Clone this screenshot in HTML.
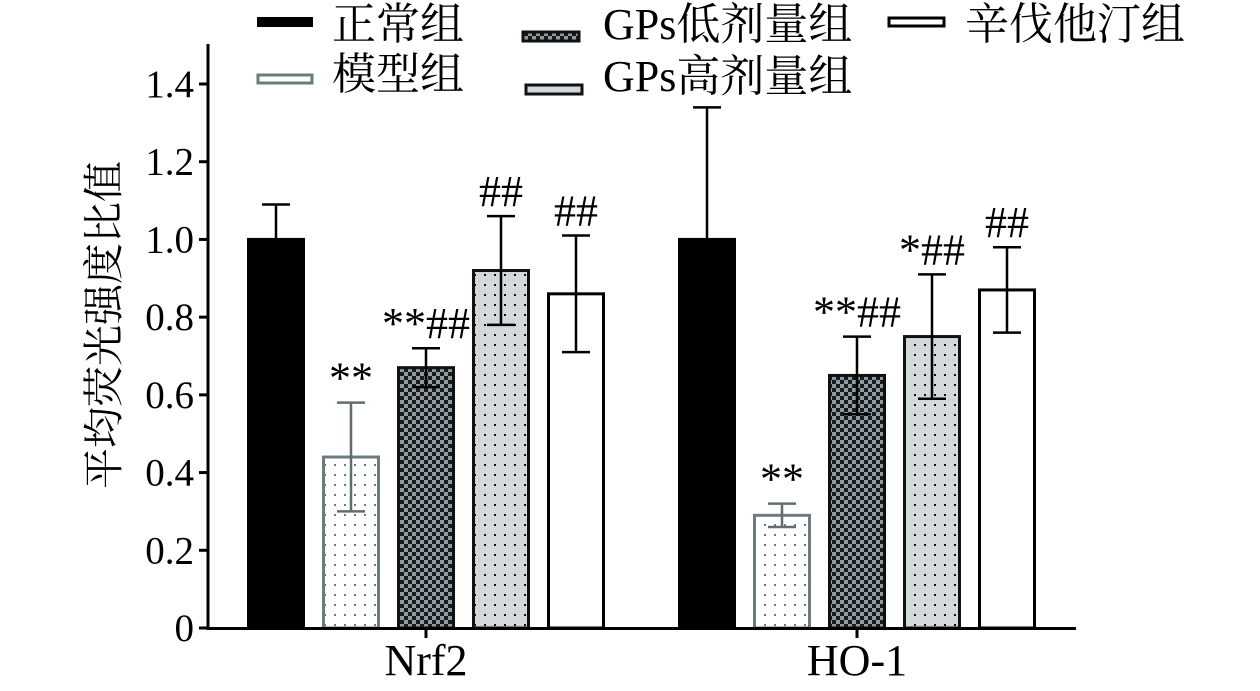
<!DOCTYPE html>
<html><head><meta charset="utf-8"><style>
body{margin:0;background:#fff;}
svg text{font-family:"Liberation Serif","Noto Serif CJK SC",serif;fill:#000;}
</style></head><body>
<svg id="chart" width="1260" height="686" viewBox="0 0 1260 686" xmlns="http://www.w3.org/2000/svg">
<defs>
<pattern id="pModel" width="10" height="10" patternUnits="userSpaceOnUse"><rect width="10" height="10" fill="#fff"/><rect x="4" y="4" width="2" height="2" fill="#6d7b80"/></pattern>
<pattern id="pLow" width="8" height="8" patternUnits="userSpaceOnUse"><rect width="8" height="8" fill="#1a1a1a"/><rect width="4" height="4" fill="#8d9ca2"/><rect x="4" y="4" width="4" height="4" fill="#8d9ca2"/></pattern>
<pattern id="pHigh" width="10" height="10" patternUnits="userSpaceOnUse"><rect width="10" height="10" fill="#d3d9da"/><rect x="4" y="4" width="2" height="2" fill="#111"/></pattern>
</defs>
<g id="legend">
<rect x="257" y="17" width="56" height="10" fill="#000"/>
<text x="332" y="39" font-size="44">正常组</text>
<rect x="258" y="75" width="54" height="8" fill="url(#pModel)" stroke="#6d7b80" stroke-width="3"/>
<text x="332" y="89" font-size="44">模型组</text>
<rect x="523" y="32" width="56" height="9" fill="url(#pLow)" stroke="#111" stroke-width="3"/>
<text x="603" y="39" font-size="44">GPs低剂量组</text>
<rect x="526" y="85" width="56" height="9" fill="url(#pHigh)" stroke="#111" stroke-width="3"/>
<text x="603" y="91" font-size="44">GPs高剂量组</text>
<rect x="889" y="18" width="55" height="8" fill="#fff" stroke="#000" stroke-width="3"/>
<text x="965" y="39" font-size="44">辛伐他汀组</text>
</g>
<text transform="translate(118,325) rotate(-90)" text-anchor="middle" font-size="41">平均荧光强度比值</text>
<g id="plot"></g>
</svg>
<script>
const categories=["Nrf2","HO-1"];
const normalVals=[1.0,1.0];
const modelVals=[0.44,0.29];
const lowVals=[0.67,0.65];
const highVals=[0.92,0.75];
const statinVals=[0.86,0.87];
const normalErr=[0.09,0.34];
const modelErr=[0.14,0.03];
const lowErr=[0.05,0.10];
const highErr=[0.14,0.16];
const statinErr=[0.15,0.11];
const modelMarks=["**","**"];
const lowMarks=["**##","**##"];
const highMarks=["##","*##"];
const statinMarks=["##","##"];
const yTicks=[0,0.2,0.4,0.6,0.8,1.0,1.2,1.4];
const yTickLabels=["0","0.2","0.4","0.6","0.8","1.0","1.2","1.4"];

const NS="http://www.w3.org/2000/svg";
const g=document.getElementById('plot');
const y0=628, yTop=84;
function yS(v){return y0-(v/1.4)*(y0-yTop);}
const groupCenters=[426,857];
const barW=58, barStep=75;
function xBar(ci,si){return groupCenters[ci]+(si-2)*barStep-barW/2;}
function mk(tag,attrs){const e=document.createElementNS(NS,tag);for(const k in attrs)e.setAttribute(k,attrs[k]);g.appendChild(e);return e;}
const series=[
 {vals:normalVals,err:normalErr,marks:null,fill:"#000",stroke:"#000",ec:"#000",name:"normal"},
 {vals:modelVals,err:modelErr,marks:modelMarks,fill:"url(#pModel)",stroke:"#6d7b80",ec:"#5f6d72",name:"model"},
 {vals:lowVals,err:lowErr,marks:lowMarks,fill:"url(#pLow)",stroke:"#111",ec:"#000",name:"low-dose"},
 {vals:highVals,err:highErr,marks:highMarks,fill:"url(#pHigh)",stroke:"#111",ec:"#000",name:"high-dose"},
 {vals:statinVals,err:statinErr,marks:statinMarks,fill:"#fff",stroke:"#000",ec:"#000",name:"statin"}
];
series.forEach((s,si)=>{
 categories.forEach((c,ci)=>{
  const x=xBar(ci,si), y=yS(s.vals[ci]);
  const r=mk('rect',{x:x+1.5,y:y,width:barW-3,height:y0-y,fill:s.fill,stroke:s.stroke,'stroke-width':3});
  
  
  const cx=x+barW/2, yh=yS(s.vals[ci]+s.err[ci]), yl=yS(s.vals[ci]-s.err[ci]);
  const e=mk('path',{d:`M${cx},${yh}V${yl}M${cx-14},${yh}H${cx+14}M${cx-14},${yl}H${cx+14}`,stroke:s.ec,'stroke-width':2.5,fill:'none'});
  
  
  if(s.marks){
   const t=mk('text',{x:cx,y:yh-10,'text-anchor':'middle','font-size':44});
   t.textContent=s.marks[ci];
   
   
  }
 });
});
const ya=mk('path',{d:`M208,44V630`,stroke:'#000','stroke-width':3});


const xa=mk('path',{d:`M207,628.5H1076`,stroke:'#000','stroke-width':3});


yTicks.forEach((v,i)=>{
 const yy=yS(v);
 const tk=mk('path',{d:`M199,${yy}H208`,stroke:'#000','stroke-width':3});
 
 
 const t=mk('text',{x:194,y:yy+13,'text-anchor':'end','font-size':39});
 t.textContent=yTickLabels[i];
 
 
});
categories.forEach((c,ci)=>{
 const tk=mk('path',{d:`M${groupCenters[ci]},628V638`,stroke:'#000','stroke-width':3});
 
 
 const t=mk('text',{x:groupCenters[ci],y:675,'text-anchor':'middle','font-size':44});
 t.textContent=c;
 
 
});
</script>
</body></html>
